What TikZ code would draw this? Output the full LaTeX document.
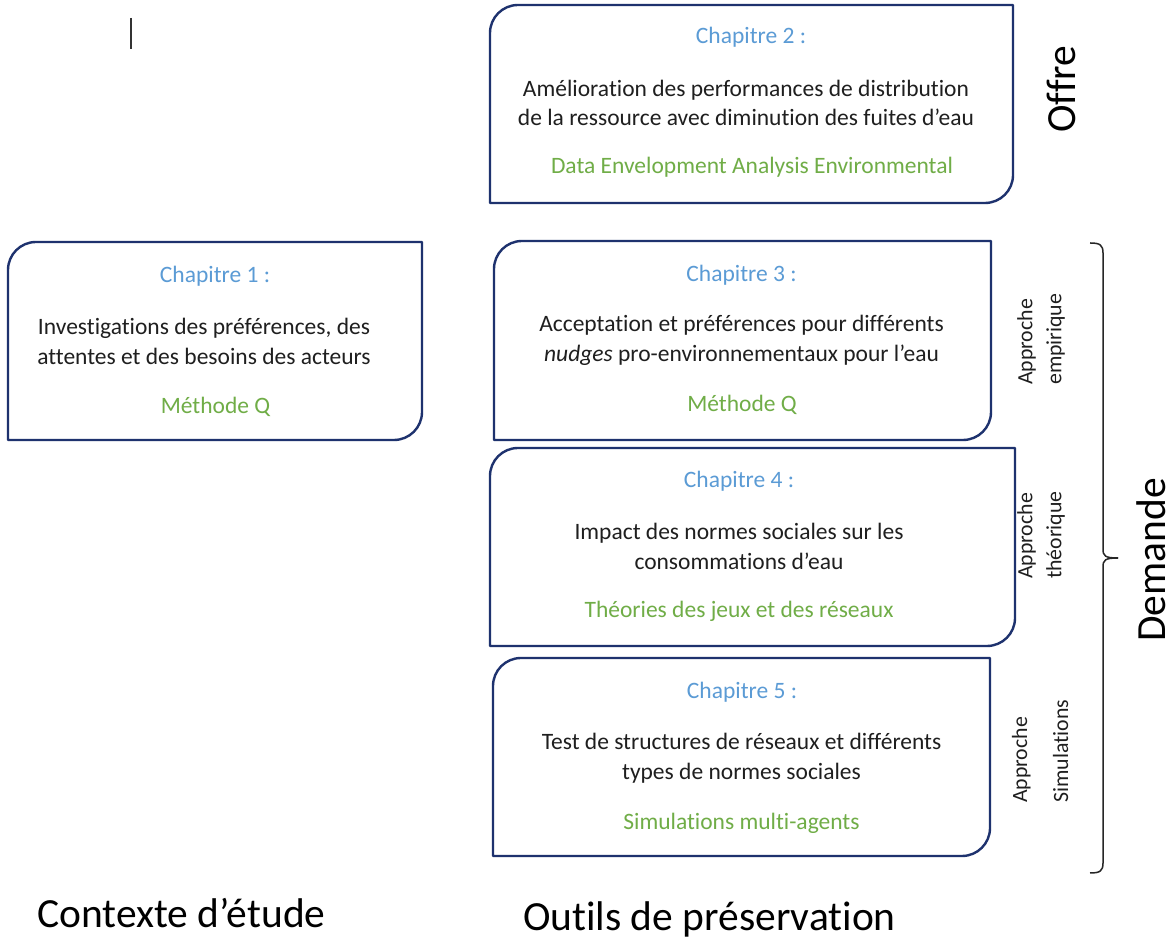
\documentclass[tikz,border=0pt]{standalone}
\usepackage{fontspec}
\setmainfont{Carlito}[RawFeature={-liga;-clig;-calt;-dlig}]
\definecolor{navy}{RGB}{30,50,110}
\definecolor{chblue}{RGB}{91,155,213}
\definecolor{chgreen}{RGB}{112,173,71}
\newcommand\chbox[1]{\draw[boxline] (#1.south west) -- ([yshift=-28pt]#1.north west) arc[start angle=180,end angle=90,radius=28pt] -- (#1.north east) -- ([yshift=28pt]#1.south east) arc[start angle=0,end angle=-90,radius=28pt] -- cycle;}
\tikzset{
  boxline/.style={draw=navy, line width=2.4pt, line join=round},
  boxnode/.style={inner sep=0pt, outer sep=0pt, draw=none},
  txt/.style={font=\fontsize{23.5}{29.5}\selectfont, align=center, inner sep=0pt},
  ttl/.style={txt, text=chblue},
  bdy/.style={txt, text=black!88},
  mth/.style={txt, text=chgreen},
  side/.style={rotate=90, align=left, anchor=west, inner sep=0pt, text=black!88, font=\fontsize{21.8}{29}\selectfont},
  big/.style={font=\fontsize{41.5}{50}\selectfont, inner sep=0pt, text=black},
  bracel/.style={draw=black!85, line width=1.5pt}
}
\begin{document}
\begin{tikzpicture}[x=1pt,y=1pt]
\fill[white] (0,0) rectangle (1169,939);
\useasboundingbox (0,0) rectangle (1169,939);

% cursor mark
\coordinate (cura) at (131,921);
\coordinate (curb) at (131,890);
\draw[line width=1.8pt, black!80] (cura) -- (curb);

% boxes
\node[boxnode, minimum width=523pt, minimum height=198pt] (c2) at (751.5,835) {};
\node[boxnode, minimum width=414pt, minimum height=198pt] (c1) at (215,598) {};
\node[boxnode, minimum width=497pt, minimum height=199pt] (c3) at (742.5,598.5) {};
\node[boxnode, minimum width=525pt, minimum height=198pt] (c4) at (752.5,392) {};
\node[boxnode, minimum width=497pt, minimum height=198pt] (c5) at (741.5,182) {};
\chbox{c2}
\chbox{c1}
\chbox{c3}
\chbox{c4}
\chbox{c5}

% chapter 2
\node[ttl] (t2) at (751,902) {Chapitre 2 :};
\node[bdy] (b2) at (746,836) {Amélioration des performances de distribution\\de la ressource avec diminution des fuites d’eau};
\node[mth] (m2) at (752,772) {Data Envelopment Analysis Environmental};

% chapter 1
\node[ttl] (t1) at (215,663) {Chapitre 1 :};
\node[bdy] (b1) at (204,597.5) {Investigations des préférences, des\\attentes et des besoins des acteurs};
\node[mth] (m1) at (215.5,532) {Méthode Q};

% chapter 3
\node[ttl] (t3) at (741.5,664) {Chapitre 3 :};
\node[bdy] (b3) at (741.5,598.5) {Acceptation et préférences pour différents\\\textit{nudges} pro-environnementaux pour l’eau};
\node[mth] (m3) at (742,534) {Méthode Q};

% chapter 4
\node[ttl] (t4) at (739,458) {Chapitre 4 :};
\node[bdy] (b4) at (739,392.5) {Impact des normes sociales sur les\\consommations d’eau};
\node[mth] (m4) at (739,328) {Théories des jeux et des réseaux};

% chapter 5
\node[ttl] (t5) at (742,247) {Chapitre 5 :};
\node[bdy] (b5) at (741.5,181) {Test de structures de réseaux et différents\\types de normes sociales};
\node[mth] (m5) at (741.5,116) {Simulations multi-agents};

% side labels
\node[side] (a1) at (1041,554) {Approche\\empirique};
\node[side] (a2) at (1041,360) {Approche\\théorique};
\node[side] (a3) at (1040,136) {Approche\\[12pt]Simulations};

% brace
\draw[bracel] (1090,696) .. controls (1100,696) and (1103,694) .. (1103,686) -- (1103,390) .. controls (1103,383) and (1105,381) .. (1118,381);
\draw[bracel] (1118,381) .. controls (1105,381) and (1103,379) .. (1103,372) -- (1103,76) .. controls (1103,68) and (1100,66) .. (1090,66);

% big labels
\node[big, rotate=90] (offre) at (1061,850) {Offre};
\node[big, rotate=90] (dem) at (1151,379) {Demande};
\node[big, anchor=base west] (ctx) at (37,12) {Contexte d’étude};
\node[big, anchor=base west] (out) at (523,9) {Outils de préservation};
\end{tikzpicture}
\end{document}
